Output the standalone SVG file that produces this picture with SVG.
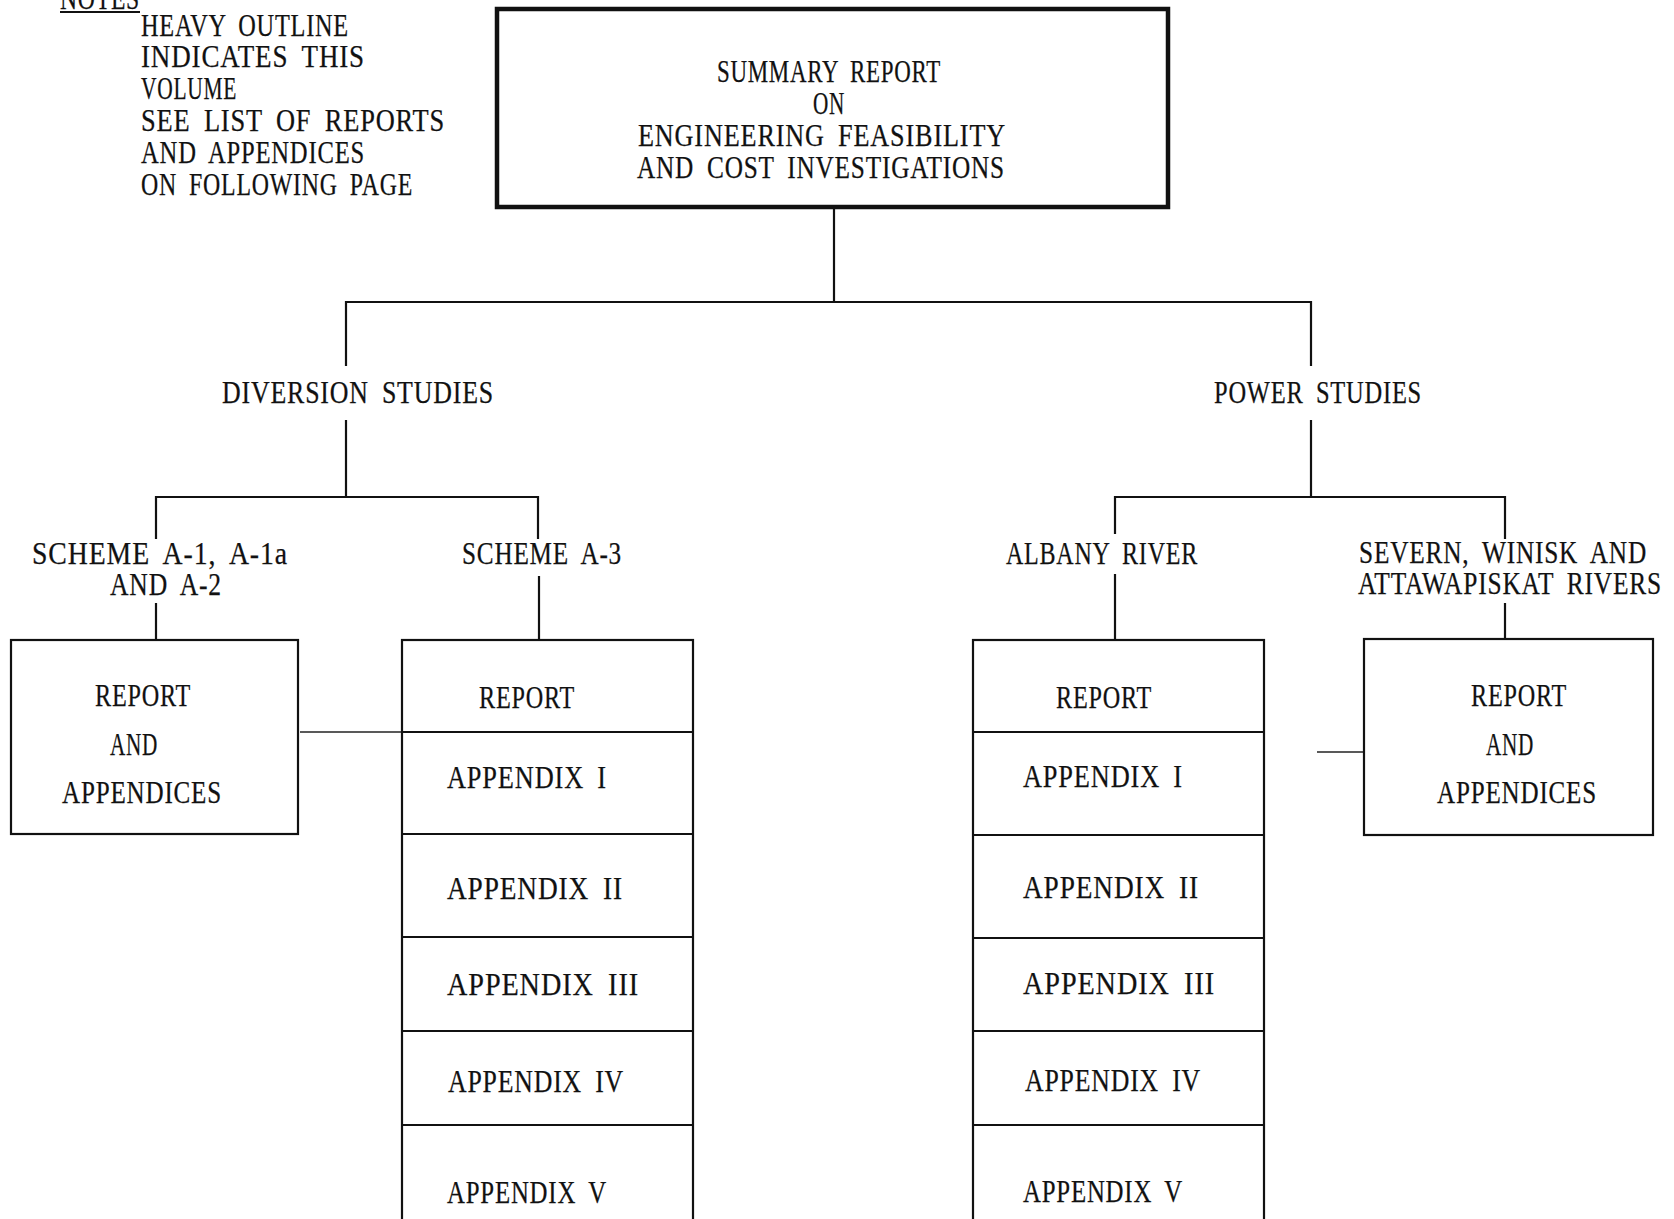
<svg xmlns="http://www.w3.org/2000/svg" width="1674" height="1219" viewBox="0 0 1674 1219">
<style>
.t{font-family:"Liberation Serif","Times New Roman",serif;font-size:31px;letter-spacing:1px;word-spacing:7px;fill:#111;stroke:#111;stroke-width:0.25px;}
.box{fill:none;stroke:#111;stroke-width:2.2;}
.heavy{fill:none;stroke:#111;stroke-width:4.5;}
.ln{fill:none;stroke:#111;stroke-width:2.2;}
.thin{fill:none;stroke:#222;stroke-width:1.4;}
</style>
<rect width="1674" height="1219" fill="#fff"/>

<g id="notes">
<text class="t" x="60" y="9" textLength="80" lengthAdjust="spacingAndGlyphs">NOTES</text>
<line class="ln" x1="60" y1="12" x2="140" y2="12"/>
<text class="t" x="141" y="36" textLength="208" lengthAdjust="spacingAndGlyphs">HEAVY OUTLINE</text>
<text class="t" x="141" y="67" textLength="224" lengthAdjust="spacingAndGlyphs">INDICATES THIS</text>
<text class="t" x="141" y="99" textLength="96" lengthAdjust="spacingAndGlyphs">VOLUME</text>
<text class="t" x="141" y="131" textLength="304" lengthAdjust="spacingAndGlyphs">SEE LIST OF REPORTS</text>
<text class="t" x="141" y="163" textLength="224" lengthAdjust="spacingAndGlyphs">AND APPENDICES</text>
<text class="t" x="141" y="195" textLength="272" lengthAdjust="spacingAndGlyphs">ON FOLLOWING PAGE</text>
</g>

<g id="connectors">
<line class="ln" x1="834" y1="209" x2="834" y2="302"/>
<line class="ln" x1="346" y1="302" x2="1311" y2="302"/>
<line class="ln" x1="346" y1="301" x2="346" y2="366"/>
<line class="ln" x1="346" y1="420" x2="346" y2="497"/>
<line class="ln" x1="156" y1="497" x2="538" y2="497"/>
<line class="ln" x1="156" y1="496" x2="156" y2="539"/>
<line class="ln" x1="156" y1="603" x2="156" y2="641"/>
<line class="ln" x1="538" y1="496" x2="538" y2="539"/>
<line class="ln" x1="539" y1="576" x2="539" y2="641"/>
<line class="ln" x1="1311" y1="301" x2="1311" y2="366"/>
<line class="ln" x1="1311" y1="420" x2="1311" y2="497"/>
<line class="ln" x1="1115" y1="497" x2="1505" y2="497"/>
<line class="ln" x1="1115" y1="496" x2="1115" y2="534"/>
<line class="ln" x1="1115" y1="574" x2="1115" y2="640"/>
<line class="ln" x1="1505" y1="496" x2="1505" y2="539"/>
<line class="ln" x1="1505" y1="603" x2="1505" y2="639"/>
<line class="thin" x1="300" y1="732" x2="401" y2="732"/>
<line class="thin" x1="1317" y1="752" x2="1363" y2="752"/>
</g>

<g id="summary">
<rect class="heavy" x="497" y="9" width="671" height="198"/>
<text class="t" x="717" y="82" textLength="224" lengthAdjust="spacingAndGlyphs">SUMMARY REPORT</text>
<text class="t" x="813" y="114" textLength="32" lengthAdjust="spacingAndGlyphs">ON</text>
<text class="t" x="638" y="146" textLength="368" lengthAdjust="spacingAndGlyphs">ENGINEERING FEASIBILITY</text>
<text class="t" x="637" y="178" textLength="368" lengthAdjust="spacingAndGlyphs">AND COST INVESTIGATIONS</text>
</g>

<g id="diversion-studies">
<text class="t" x="222" y="403" textLength="272" lengthAdjust="spacingAndGlyphs">DIVERSION STUDIES</text>
</g>
<g id="power-studies">
<text class="t" x="1214" y="403" textLength="208" lengthAdjust="spacingAndGlyphs">POWER STUDIES</text>
</g>
<g id="scheme-a1">
<text class="t" x="32" y="564" textLength="256" lengthAdjust="spacingAndGlyphs">SCHEME A-1, A-1a</text>
<text class="t" x="110" y="595" textLength="112" lengthAdjust="spacingAndGlyphs">AND A-2</text>
</g>
<g id="scheme-a3">
<text class="t" x="462" y="564" textLength="160" lengthAdjust="spacingAndGlyphs">SCHEME A-3</text>
</g>
<g id="albany-river">
<text class="t" x="1006" y="564" textLength="192" lengthAdjust="spacingAndGlyphs">ALBANY RIVER</text>
</g>
<g id="severn">
<text class="t" x="1359" y="563" textLength="288" lengthAdjust="spacingAndGlyphs">SEVERN, WINISK AND</text>
<text class="t" x="1358" y="594" textLength="304" lengthAdjust="spacingAndGlyphs">ATTAWAPISKAT RIVERS</text>
</g>

<g id="box-a1">
<rect class="box" x="11" y="640" width="287" height="194"/>
<text class="t" x="95" y="706" textLength="96" lengthAdjust="spacingAndGlyphs">REPORT</text>
<text class="t" x="110" y="755" textLength="48" lengthAdjust="spacingAndGlyphs">AND</text>
<text class="t" x="62" y="803" textLength="160" lengthAdjust="spacingAndGlyphs">APPENDICES</text>
</g>

<g id="box-a3">
<rect class="box" x="402" y="640" width="291" height="600"/>
<line class="box" x1="402" y1="732" x2="693" y2="732"/>
<line class="box" x1="402" y1="834" x2="693" y2="834"/>
<line class="box" x1="402" y1="937" x2="693" y2="937"/>
<line class="box" x1="402" y1="1031" x2="693" y2="1031"/>
<line class="box" x1="402" y1="1125" x2="693" y2="1125"/>
<text class="t" x="479" y="708" textLength="96" lengthAdjust="spacingAndGlyphs">REPORT</text>
<text class="t" x="447" y="788" textLength="160" lengthAdjust="spacingAndGlyphs">APPENDIX I</text>
<text class="t" x="447" y="899" textLength="176" lengthAdjust="spacingAndGlyphs">APPENDIX II</text>
<text class="t" x="447" y="995" textLength="192" lengthAdjust="spacingAndGlyphs">APPENDIX III</text>
<text class="t" x="448" y="1092" textLength="176" lengthAdjust="spacingAndGlyphs">APPENDIX IV</text>
<text class="t" x="447" y="1203" textLength="160" lengthAdjust="spacingAndGlyphs">APPENDIX V</text>
</g>

<g id="box-albany">
<rect class="box" x="973" y="640" width="291" height="600"/>
<line class="box" x1="973" y1="732" x2="1264" y2="732"/>
<line class="box" x1="973" y1="835" x2="1264" y2="835"/>
<line class="box" x1="973" y1="938" x2="1264" y2="938"/>
<line class="box" x1="973" y1="1031" x2="1264" y2="1031"/>
<line class="box" x1="973" y1="1125" x2="1264" y2="1125"/>
<text class="t" x="1056" y="708" textLength="96" lengthAdjust="spacingAndGlyphs">REPORT</text>
<text class="t" x="1023" y="787" textLength="160" lengthAdjust="spacingAndGlyphs">APPENDIX I</text>
<text class="t" x="1023" y="898" textLength="176" lengthAdjust="spacingAndGlyphs">APPENDIX II</text>
<text class="t" x="1023" y="994" textLength="192" lengthAdjust="spacingAndGlyphs">APPENDIX III</text>
<text class="t" x="1025" y="1091" textLength="176" lengthAdjust="spacingAndGlyphs">APPENDIX IV</text>
<text class="t" x="1023" y="1202" textLength="160" lengthAdjust="spacingAndGlyphs">APPENDIX V</text>
</g>

<g id="box-severn">
<rect class="box" x="1364" y="639" width="289" height="196"/>
<text class="t" x="1471" y="706" textLength="96" lengthAdjust="spacingAndGlyphs">REPORT</text>
<text class="t" x="1486" y="755" textLength="48" lengthAdjust="spacingAndGlyphs">AND</text>
<text class="t" x="1437" y="803" textLength="160" lengthAdjust="spacingAndGlyphs">APPENDICES</text>
</g>
</svg>
